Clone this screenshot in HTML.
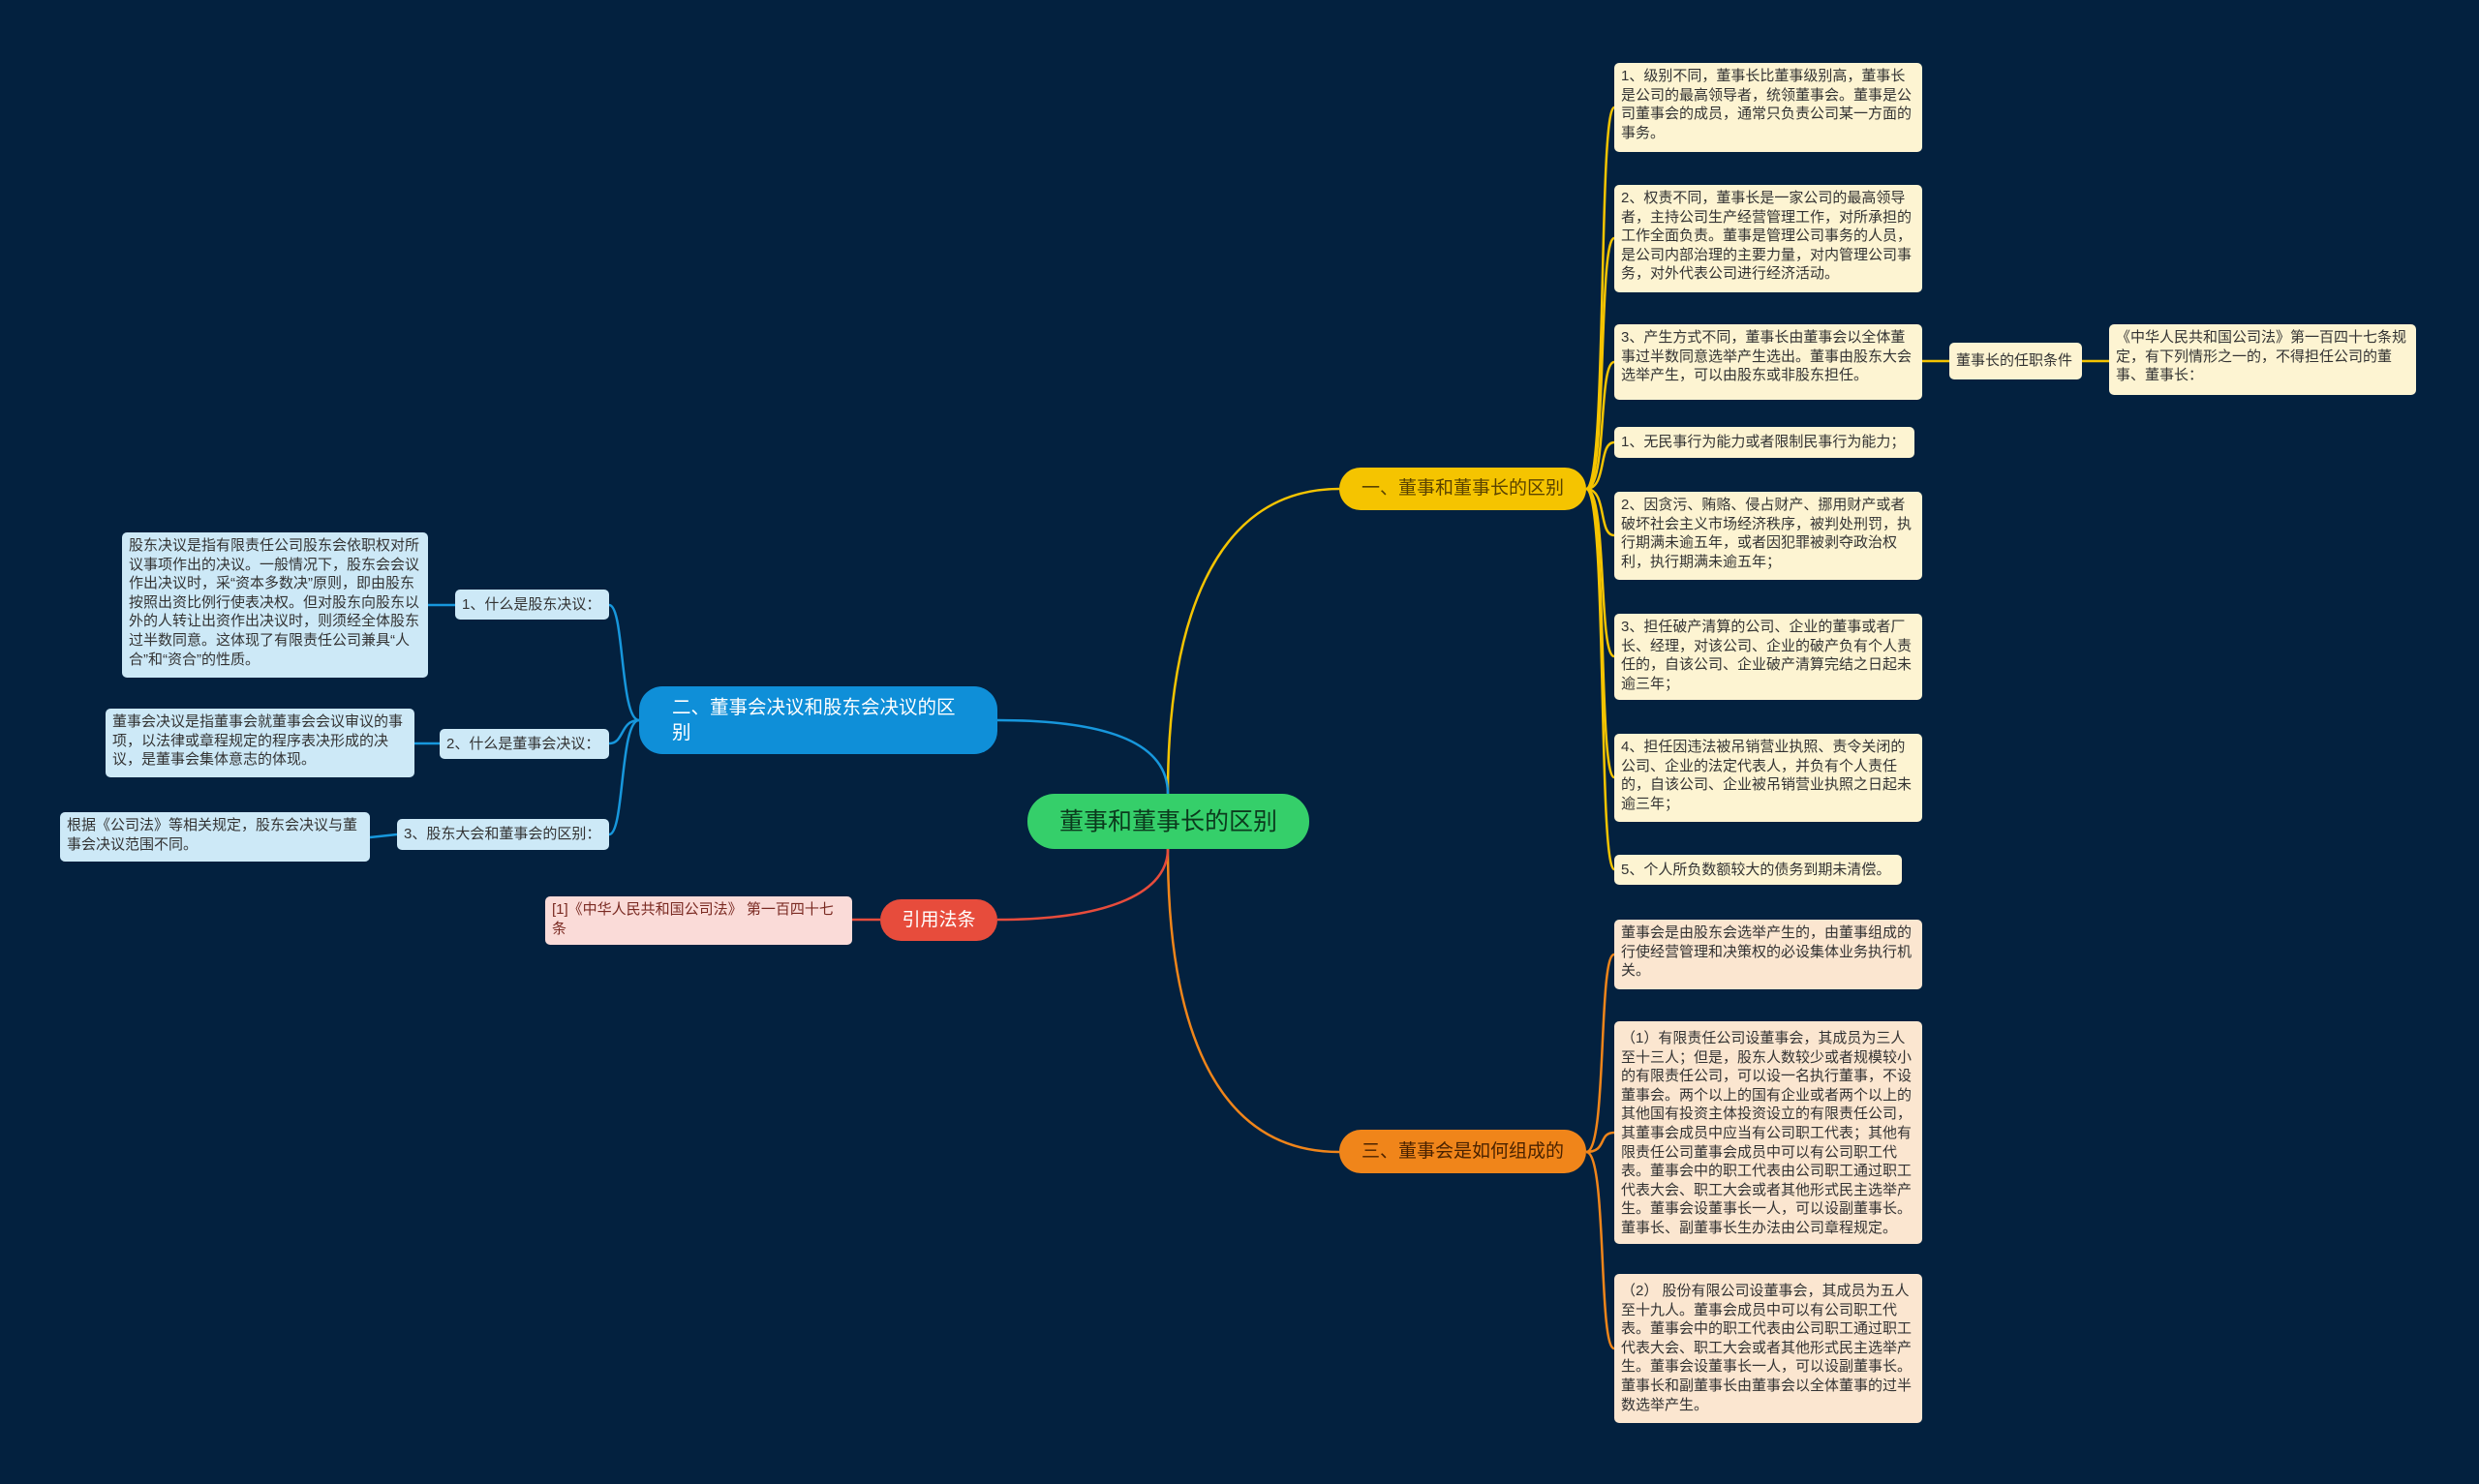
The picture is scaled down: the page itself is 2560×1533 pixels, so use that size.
<!DOCTYPE html>
<html><head><meta charset="utf-8"><style>
body{margin:0;width:2560px;height:1533px;background:#03213f;overflow:hidden;position:relative;font-family:"Liberation Sans","Noto Sans CJK SC",sans-serif;}
.n{position:absolute;box-sizing:border-box;font-size:15px;line-height:19.6px;color:#333;padding:4px 7px;border-radius:5px;}
.y{background:#fdf4d2;}
.o{background:#fbe6d0;}
.b{background:#cde9f7;}
.p{background:#fadbd8;color:#7a2a22;}
.br{position:absolute;box-sizing:border-box;display:flex;align-items:center;border-radius:24px;font-size:19px;line-height:26px;}
svg{position:absolute;left:0;top:0;}
</style></head><body>
<svg width="2560" height="1533" fill="none" stroke-width="2.5">
<path d="M1206 820 C1206 650,1250 505,1383 505" stroke="#f5c400"/>
<path d="M1206 877 C1206 1050,1250 1190,1383 1190" stroke="#f0851a"/>
<path d="M1206 820 C1206 770,1150 744,1030 744" stroke="#1797dc"/>
<path d="M1206 877 C1206 920,1150 950,1030 950" stroke="#e74c3c"/>
<g stroke="#f5c400">
<path d="M1638 505 C1660 505,1650 111,1667 111"/>
<path d="M1638 505 C1660 505,1650 246,1667 246"/>
<path d="M1638 505 C1660 505,1650 374,1667 374"/>
<path d="M1638 505 C1660 505,1650 457,1667 457"/>
<path d="M1638 505 C1660 505,1650 553,1667 553"/>
<path d="M1638 505 C1660 505,1650 678,1667 678"/>
<path d="M1638 505 C1660 505,1650 803,1667 803"/>
<path d="M1638 505 C1660 505,1650 898,1667 898"/>
<path d="M1985 373 L2013 373 M2150 373 L2178 373"/>
</g>
<g stroke="#f0851a">
<path d="M1638 1190 C1660 1190,1650 986,1667 986"/>
<path d="M1638 1190 C1660 1190,1650 1170,1667 1170"/>
<path d="M1638 1190 C1660 1190,1650 1393,1667 1393"/>
</g>
<g stroke="#1797dc">
<path d="M660 744 C640 744,645 625,629 625"/>
<path d="M660 744 C640 744,645 768,629 768"/>
<path d="M660 744 C640 744,645 862,629 862"/>
<path d="M442 625 L470 625 M428 768 L454 768 M382 865 L410 862"/>
</g>
<path d="M880 950 L909 950" stroke="#e74c3c"/>
</svg>

<div class="br" style="left:1061px;top:820px;width:291px;height:57px;background:#35cf6a;color:#0b3a1d;font-size:25px;justify-content:center;border-radius:28px;">董事和董事长的区别</div>
<div class="br" style="left:1383px;top:483px;width:255px;height:44px;background:#f5c400;color:#5a4300;justify-content:center;">一、董事和董事长的区别</div>
<div class="br" style="left:1383px;top:1167px;width:255px;height:45px;background:#f0851a;color:#4a2200;justify-content:center;">三、董事会是如何组成的</div>
<div class="br" style="left:660px;top:709px;width:370px;height:70px;background:#0f8fd8;color:#fff;padding:0 40px 0 34px;font-size:19.5px;">二、董事会决议和股东会决议的区别</div>
<div class="br" style="left:909px;top:929px;width:121px;height:43px;background:#e74c3c;color:#fff;justify-content:center;">引用法条</div>

<div class="n y" style="left:1667px;top:65px;width:318px;height:92px;">1、级别不同，董事长比董事级别高，董事长是公司的最高领导者，统领董事会。董事是公司董事会的成员，通常只负责公司某一方面的事务。</div>
<div class="n y" style="left:1667px;top:191px;width:318px;height:111px;">2、权责不同，董事长是一家公司的最高领导者，主持公司生产经营管理工作，对所承担的工作全面负责。董事是管理公司事务的人员，是公司内部治理的主要力量，对内管理公司事务，对外代表公司进行经济活动。</div>
<div class="n y" style="left:1667px;top:335px;width:318px;height:78px;">3、产生方式不同，董事长由董事会以全体董事过半数同意选举产生选出。董事由股东大会选举产生，可以由股东或非股东担任。</div>
<div class="n y" style="left:2013px;top:354px;width:137px;height:38px;line-height:30px;">董事长的任职条件</div>
<div class="n y" style="left:2178px;top:335px;width:317px;height:73px;">《中华人民共和国公司法》第一百四十七条规定，有下列情形之一的，不得担任公司的董事、董事长：</div>
<div class="n y" style="left:1667px;top:441px;width:310px;height:32px;line-height:24px;">1、无民事行为能力或者限制民事行为能力；</div>
<div class="n y" style="left:1667px;top:508px;width:318px;height:91px;">2、因贪污、贿赂、侵占财产、挪用财产或者破坏社会主义市场经济秩序，被判处刑罚，执行期满未逾五年，或者因犯罪被剥夺政治权利，执行期满未逾五年；</div>
<div class="n y" style="left:1667px;top:634px;width:318px;height:89px;">3、担任破产清算的公司、企业的董事或者厂长、经理，对该公司、企业的破产负有个人责任的，自该公司、企业破产清算完结之日起未逾三年；</div>
<div class="n y" style="left:1667px;top:758px;width:318px;height:91px;">4、担任因违法被吊销营业执照、责令关闭的公司、企业的法定代表人，并负有个人责任的，自该公司、企业被吊销营业执照之日起未逾三年；</div>
<div class="n y" style="left:1667px;top:883px;width:297px;height:31px;line-height:23px;">5、个人所负数额较大的债务到期未清偿。</div>

<div class="n o" style="left:1667px;top:950px;width:318px;height:72px;">董事会是由股东会选举产生的，由董事组成的行使经营管理和决策权的必设集体业务执行机关。</div>
<div class="n o" style="left:1667px;top:1055px;width:318px;height:230px;padding-top:8px;">（1）有限责任公司设董事会，其成员为三人至十三人；但是，股东人数较少或者规模较小的有限责任公司，可以设一名执行董事，不设董事会。两个以上的国有企业或者两个以上的其他国有投资主体投资设立的有限责任公司，其董事会成员中应当有公司职工代表；其他有限责任公司董事会成员中可以有公司职工代表。董事会中的职工代表由公司职工通过职工代表大会、职工大会或者其他形式民主选举产生。董事会设董事长一人，可以设副董事长。董事长、副董事长生办法由公司章程规定。</div>
<div class="n o" style="left:1667px;top:1316px;width:318px;height:154px;padding-top:8px;">（2） 股份有限公司设董事会，其成员为五人至十九人。董事会成员中可以有公司职工代表。董事会中的职工代表由公司职工通过职工代表大会、职工大会或者其他形式民主选举产生。董事会设董事长一人，可以设副董事长。董事长和副董事长由董事会以全体董事的过半数选举产生。</div>

<div class="n b" style="left:470px;top:609px;width:159px;height:31px;line-height:23px;">1、什么是股东决议：</div>
<div class="n b" style="left:454px;top:753px;width:175px;height:31px;line-height:23px;">2、什么是董事会决议：</div>
<div class="n b" style="left:410px;top:846px;width:219px;height:32px;line-height:24px;">3、股东大会和董事会的区别：</div>
<div class="n b" style="left:126px;top:550px;width:316px;height:150px;">股东决议是指有限责任公司股东会依职权对所议事项作出的决议。一般情况下，股东会会议作出决议时，采“资本多数决”原则，即由股东按照出资比例行使表决权。但对股东向股东以外的人转让出资作出决议时，则须经全体股东过半数同意。这体现了有限责任公司兼具“人合”和“资合”的性质。</div>
<div class="n b" style="left:109px;top:732px;width:319px;height:71px;">董事会决议是指董事会就董事会会议审议的事项，以法律或章程规定的程序表决形成的决议，是董事会集体意志的体现。</div>
<div class="n b" style="left:62px;top:839px;width:320px;height:51px;">根据《公司法》等相关规定，股东会决议与董事会决议范围不同。</div>
<div class="n p" style="left:563px;top:926px;width:317px;height:50px;">[1]《中华人民共和国公司法》 第一百四十七条</div>
</body></html>
